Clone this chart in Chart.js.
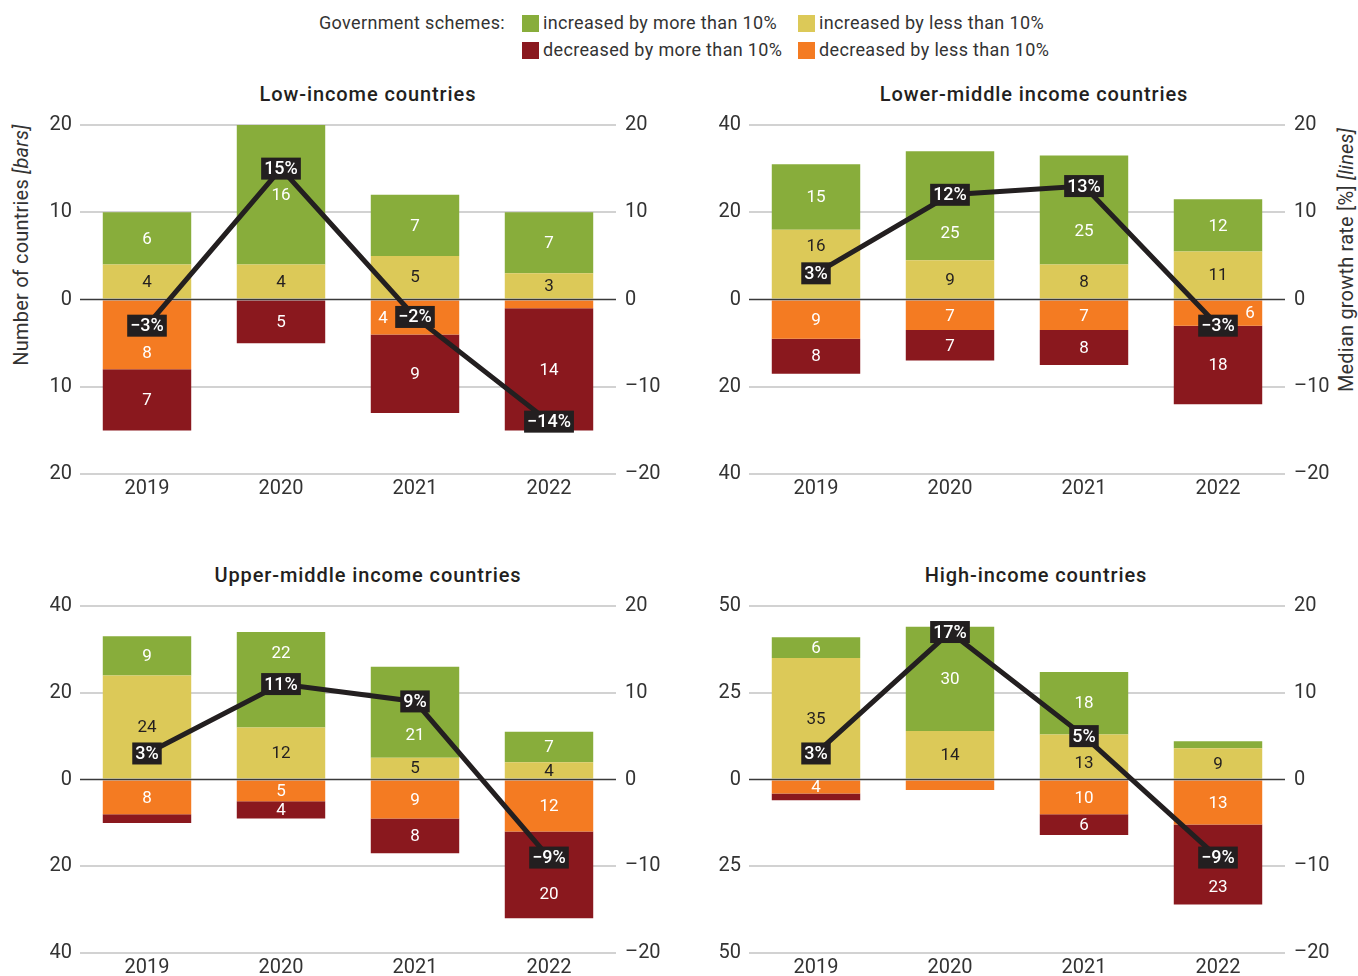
<!DOCTYPE html>
<html>
<head>
<meta charset="utf-8">
<script src="https://cdn.jsdelivr.net/npm/chart.js@4.4.1/dist/chart.umd.min.js"></script>
<style>
  html, body { margin:0; padding:0; }
  body { width:1358px; height:976px; overflow:hidden; background:#fff; position:relative;
         font-family: Roboto, "Noto Sans", sans-serif; color:#333; }
  .panel { position:absolute; }
  .ptitle { position:absolute; width:500px; text-align:center; font-size:20px; font-weight:500;
            color:#231f20; line-height:24px; letter-spacing:0.9px; }
  .ytitle { position:absolute; font-size:20px; color:#333; white-space:nowrap;
            transform-origin:center center; line-height:24px; letter-spacing:0.2px; }
  .legend { position:absolute; font-size:18px; color:#333; line-height:22px; white-space:nowrap; letter-spacing:0.35px; }
  .sw { position:absolute; width:17px; height:17px; }
</style>
</head>
<body>
<script>
// ---------- data ----------
const years = ['2019', '2020', '2021', '2022'];

const legendLabels = ['increased by more than 10%', 'increased by less than 10%',
                      'decreased by more than 10%', 'decreased by less than 10%'];

// Low-income countries
const lowIncMore = [6, 16, 7, 7];
const lowIncLess = [4, 4, 5, 3];
const lowDecLess = [8, 0, 4, 1];
const lowDecMore = [7, 5, 9, 14];
const lowGrowth  = [-3, 15, -2, -14];

// Lower-middle income countries
const lmIncMore = [15, 25, 25, 12];
const lmIncLess = [16, 9, 8, 11];
const lmDecLess = [9, 7, 7, 6];
const lmDecMore = [8, 7, 8, 18];
const lmGrowth  = [3, 12, 13, -3];

// Upper-middle income countries
const umIncMore = [9, 22, 21, 7];
const umIncLess = [24, 12, 5, 4];
const umDecLess = [8, 5, 9, 12];
const umDecMore = [2, 4, 8, 20];
const umGrowth  = [3, 11, 9, -9];

// High-income countries
const hiIncMore = [6, 30, 18, 2];
const hiIncLess = [35, 14, 13, 9];
const hiDecLess = [4, 3, 10, 13];
const hiDecMore = [2, 0, 6, 23];
const hiGrowth  = [3, 17, 5, -9];

// axis ranges
const lowCountMax = 20, lowCountStep = 10;
const lmCountMax = 40, lmCountStep = 20;
const umCountMax = 40, umCountStep = 20;
const hiCountMax = 50, hiCountStep = 25;
const growthMax = 20, growthStep = 10;

// ---------- styles ----------
const C_GREEN = '#88ad3b', C_YELLOW = '#dcc958', C_ORANGE = '#f47b22', C_RED = '#8a181e', C_LINE = '#231f20';
const FONT = 'Roboto, "Noto Sans", sans-serif';

function el(tag, cls, style, html) {
  const e = document.createElement(tag);
  if (cls) e.className = cls;
  Object.assign(e.style, style || {});
  if (html != null) e.innerHTML = html;
  document.body.appendChild(e);
  return e;
}

// legend
el('div', 'legend', { left: '200px', width: '305px', top: '12px', textAlign: 'right' }, 'Government schemes:');
const legendPos = [[522, 12], [798, 12], [522, 39], [798, 39]];
const legendCols = [C_GREEN, C_YELLOW, C_RED, C_ORANGE];
legendLabels.forEach((t, i) => {
  const [x, y] = legendPos[i];
  el('div', 'sw', { left: x + 'px', top: (y + 3) + 'px', background: legendCols[i] });
  el('div', 'legend', { left: (x + 21) + 'px', top: y + 'px' }, t);
});

// axis titles
const lt = el('div', 'ytitle', {}, 'Number of countries <i>[bars]</i>');
lt.style.left = (20 - lt.offsetWidth / 2) + 'px';
lt.style.top = (245 - 12) + 'px';
lt.style.transform = 'rotate(-90deg)';
const rt = el('div', 'ytitle', {}, 'Median growth rate [%] <i>[lines]</i>');
rt.style.left = (1346 - rt.offsetWidth / 2) + 'px';
rt.style.top = (260 - 12) + 'px';
rt.style.transform = 'rotate(-90deg)';

function fmtSigned(v) { return v < 0 ? '\u2013' + Math.abs(v) : String(v); }
function fmtPct(v) { return (v < 0 ? '\u2212' + Math.abs(v) : String(v)) + '%'; }

const panelPlugin = {
  id: 'panelPlugin',
  beforeDatasetDraw(chart, args) {
    if (args.index !== 4) return;
    const ctx = chart.ctx;
    const area = chart.chartArea;
    const y0 = chart.scales.y.getPixelForValue(0);
    ctx.save();
    ctx.strokeStyle = '#3a3a3a';
    ctx.lineWidth = 1.5;
    ctx.beginPath();
    ctx.moveTo(area.left, y0);
    ctx.lineTo(area.right, y0);
    ctx.stroke();

    // line-label boxes (for collision)
    const boxes = this._boxes(chart);
    ctx.font = '17px ' + FONT;
    ctx.textAlign = 'center';
    ctx.textBaseline = 'middle';
    for (let d = 0; d < 4; d++) {
      const meta = chart.getDatasetMeta(d);
      const vals = chart.data.datasets[d].data;
      meta.data.forEach((bar, i) => {
        const v = Math.abs(vals[i]);
        if (!v) return;
        const top = Math.min(bar.y, bar.base), bottom = Math.max(bar.y, bar.base);
        if (bottom - top < 12) return;
        let x = bar.x, y = (top + bottom) / 2;
        const b = boxes[i];
        const bc = b.y + b.h / 2;
        if (Math.abs(y - bc) < 24) {
          const upper = b.y - top, lower = bottom - (b.y + b.h);
          if (Math.max(upper, lower) >= 18) {
            y = upper >= lower ? (top + b.y) / 2 : (b.y + b.h + bottom) / 2;
          } else {
            const half = bar.width / 2;
            x = (i === meta.data.length - 1) ? (b.x + b.w + bar.x + half) / 2 : (bar.x - half + b.x) / 2;
          }
        }
        ctx.fillStyle = d === 0 ? '#231f20' : '#ffffff';
        ctx.fillText(String(v), x, y + 1);
      });
    }
    ctx.restore();
  },
  _boxes(chart) {
    const ctx = chart.ctx;
    const meta = chart.getDatasetMeta(4);
    const vals = chart.data.datasets[4].data;
    ctx.save();
    ctx.font = '500 18px ' + FONT;
    const out = meta.data.map((pt, i) => {
      const w = ctx.measureText(fmtPct(vals[i])).width + 6;
      const h = 22;
      return { x: pt.x - w / 2, y: pt.y - h / 2, w, h, t: fmtPct(vals[i]) };
    });
    ctx.restore();
    return out;
  },
  afterDatasetsDraw(chart) {
    const ctx = chart.ctx;
    const boxes = this._boxes(chart);
    ctx.save();
    ctx.font = '500 18px ' + FONT;
    ctx.textAlign = 'center';
    ctx.textBaseline = 'middle';
    boxes.forEach(b => {
      ctx.fillStyle = C_LINE;
      ctx.fillRect(b.x, b.y, b.w, b.h);
      ctx.fillStyle = '#ffffff';
      ctx.fillText(b.t, b.x + b.w / 2, b.y + b.h / 2 + 1);
    });
    ctx.restore();
  }
};

function makePanel(cfg) {
  const wrap = el('div', 'panel', { left: cfg.left + 'px', top: cfg.top + 'px', width: cfg.width + 'px', height: cfg.height + 'px' });
  const cv = document.createElement('canvas');
  wrap.appendChild(cv);
  el('div', 'ptitle', { left: (cfg.titleX - 250) + 'px', top: (cfg.titleY - 12) + 'px' }, cfg.title);

  new Chart(cv, {
    data: {
      labels: years,
      datasets: [
        { type: 'bar', label: legendLabels[1], data: cfg.incLess, backgroundColor: C_YELLOW, order: 1, yAxisID: 'y' },
        { type: 'bar', label: legendLabels[0], data: cfg.incMore, backgroundColor: C_GREEN, order: 1, yAxisID: 'y' },
        { type: 'bar', label: legendLabels[3], data: cfg.decLess.map(v => -v), backgroundColor: C_ORANGE, order: 1, yAxisID: 'y' },
        { type: 'bar', label: legendLabels[2], data: cfg.decMore.map(v => -v), backgroundColor: C_RED, order: 1, yAxisID: 'y' },
        { type: 'line', label: 'Median growth rate', data: cfg.growth, borderColor: C_LINE, borderWidth: 5,
          pointRadius: 0, pointHoverRadius: 0, tension: 0, order: 0, yAxisID: 'y1', borderJoinStyle: 'miter' }
      ]
    },
    options: {
      responsive: true,
      maintainAspectRatio: false,
      animation: false,
      events: [],
      layout: { padding: { top: cfg.padTop, left: 0, right: 0, bottom: 0 } },
      datasets: { bar: { barPercentage: 0.66, categoryPercentage: 1, borderWidth: 0 } },
      plugins: { legend: { display: false }, tooltip: { enabled: false }, title: { display: false } },
      scales: {
        x: {
          stacked: true,
          grid: { display: false, drawTicks: false },
          border: { display: false },
          ticks: { font: { size: 20, family: FONT }, color: '#333', padding: 3 },
          afterFit: s => { s.height = cfg.xHeight; s.paddingLeft = 0; s.paddingRight = 0; }
        },
        y: {
          stacked: true,
          position: 'left',
          min: -cfg.countMax, max: cfg.countMax,
          grid: { color: c => (c.tick && c.tick.value === 0) ? 'rgba(0,0,0,0)' : '#d2d2d2', lineWidth: 2, drawTicks: false },
          border: { display: false },
          ticks: { stepSize: cfg.countStep, font: { size: 20, family: FONT }, color: '#333', padding: 8,
                   callback: v => String(Math.abs(v)) },
          afterFit: s => { s.width = cfg.leftW; s.paddingTop = 0; s.paddingBottom = 0; }
        },
        y1: {
          position: 'right',
          min: -growthMax, max: growthMax,
          grid: { display: false, drawTicks: false },
          border: { display: false },
          ticks: { stepSize: growthStep, font: { size: 20, family: FONT }, color: '#333', padding: 9,
                   callback: v => fmtSigned(v) },
          afterFit: s => { s.width = cfg.rightW; s.paddingTop = 0; s.paddingBottom = 0; }
        }
      }
    },
    plugins: [panelPlugin]
  });
}

makePanel({ title: 'Low-income countries', titleX: 368, titleY: 94,
  left: 0, top: 112, width: 680, height: 392, padTop: 13, xHeight: 30, leftW: 80, rightW: 64,
  incMore: lowIncMore, incLess: lowIncLess, decLess: lowDecLess, decMore: lowDecMore, growth: lowGrowth,
  countMax: lowCountMax, countStep: lowCountStep });
makePanel({ title: 'Lower-middle income countries', titleX: 1034, titleY: 94,
  left: 680, top: 112, width: 678, height: 392, padTop: 13, xHeight: 30, leftW: 69, rightW: 73,
  incMore: lmIncMore, incLess: lmIncLess, decLess: lmDecLess, decMore: lmDecMore, growth: lmGrowth,
  countMax: lmCountMax, countStep: lmCountStep });
makePanel({ title: 'Upper-middle income countries', titleX: 368, titleY: 575,
  left: 0, top: 592, width: 680, height: 386, padTop: 14, xHeight: 25, leftW: 80, rightW: 64,
  incMore: umIncMore, incLess: umIncLess, decLess: umDecLess, decMore: umDecMore, growth: umGrowth,
  countMax: umCountMax, countStep: umCountStep });
makePanel({ title: 'High-income countries', titleX: 1036, titleY: 575,
  left: 680, top: 592, width: 678, height: 386, padTop: 14, xHeight: 25, leftW: 69, rightW: 73,
  incMore: hiIncMore, incLess: hiIncLess, decLess: hiDecLess, decMore: hiDecMore, growth: hiGrowth,
  countMax: hiCountMax, countStep: hiCountStep });
</script>
</body>
</html>
